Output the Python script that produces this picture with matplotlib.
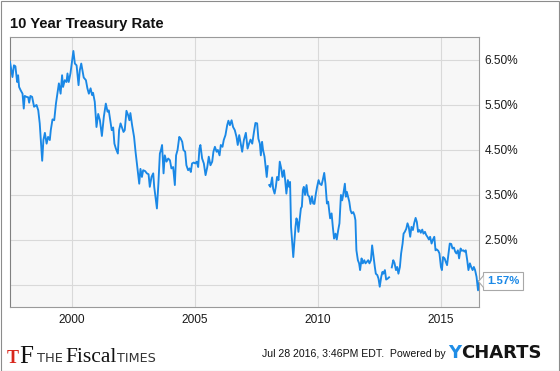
import numpy as np
import matplotlib
matplotlib.use('Agg')
import matplotlib.pyplot as plt
import matplotlib.transforms as mtransforms
from matplotlib.patches import Rectangle

plt.rcParams['font.family'] = ['Liberation Sans', 'DejaVu Sans']

# ---- data (decimal year, 10-year treasury rate in %) ----
dates = [
    1997.47, 1997.57, 1997.63, 1997.69, 1997.76, 1997.80, 1997.84, 1997.90, 1997.98,
    1998.03, 1998.07, 1998.14, 1998.21, 1998.25, 1998.30, 1998.37, 1998.45, 1998.55, 1998.62, 1998.68, 1998.75, 1998.78, 1998.83, 1998.89, 1998.96,
    1999.02, 1999.09, 1999.13, 1999.20, 1999.27, 1999.34, 1999.39, 1999.46, 1999.53, 1999.59, 1999.63, 1999.70, 1999.77, 1999.81, 1999.86, 1999.93,
    2000.00, 2000.05, 2000.11, 2000.18, 2000.26, 2000.31, 2000.37, 2000.42, 2000.47, 2000.56, 2000.62, 2000.68, 2000.75, 2000.81, 2000.85, 2000.92, 2000.99,
    2001.06, 2001.13, 2001.21, 2001.29, 2001.37, 2001.44, 2001.49, 2001.56, 2001.61, 2001.67, 2001.72, 2001.78, 2001.86, 2001.91, 2001.97,
    2002.02, 2002.09, 2002.14, 2002.21, 2002.28, 2002.33, 2002.37, 2002.44, 2002.52, 2002.58, 2002.65, 2002.73, 2002.78, 2002.84, 2002.89, 2002.97,
    2003.04, 2003.11, 2003.16, 2003.23, 2003.30, 2003.34, 2003.41, 2003.45, 2003.51, 2003.57, 2003.62, 2003.66, 2003.72, 2003.77, 2003.84, 2003.91, 2003.98,
    2004.04, 2004.11, 2004.18, 2004.23, 2004.29, 2004.36, 2004.42, 2004.48, 2004.53, 2004.60, 2004.65, 2004.72, 2004.78, 2004.83, 2004.88, 2004.95,
    2005.01, 2005.07, 2005.13, 2005.18, 2005.22, 2005.29, 2005.36, 2005.43, 2005.50, 2005.56, 2005.63, 2005.70, 2005.75, 2005.81, 2005.88, 2005.93,
    2006.00, 2006.05, 2006.12, 2006.17, 2006.24, 2006.31, 2006.36, 2006.42, 2006.49, 2006.55, 2006.62, 2006.69, 2006.74, 2006.80, 2006.85, 2006.92, 2006.99,
    2007.07, 2007.14, 2007.20, 2007.26, 2007.33, 2007.40, 2007.46, 2007.53, 2007.58, 2007.64, 2007.68, 2007.73, 2007.77, 2007.83, 2007.88, 2007.92, 2007.96, 2007.99,
    2008.02, 2008.07, 2008.14, 2008.18, 2008.24, 2008.29, 2008.34, 2008.40, 2008.45, 2008.51, 2008.56, 2008.62, 2008.67, 2008.72, 2008.78, 2008.83, 2008.87, 2008.91, 2008.96,
    2009.00, 2009.05, 2009.09, 2009.13, 2009.17, 2009.21, 2009.25, 2009.31, 2009.35, 2009.39, 2009.43, 2009.48, 2009.54, 2009.59, 2009.65, 2009.70, 2009.76, 2009.81, 2009.86, 2009.92, 2009.97,
    2010.03, 2010.08, 2010.15, 2010.20, 2010.26, 2010.31, 2010.37, 2010.42, 2010.46, 2010.50, 2010.56, 2010.61, 2010.66, 2010.72, 2010.77, 2010.83, 2010.88, 2010.94, 2010.99,
    2011.04, 2011.10, 2011.14, 2011.18, 2011.23, 2011.28, 2011.33, 2011.38, 2011.44, 2011.49, 2011.53, 2011.57, 2011.63, 2011.68, 2011.72, 2011.78, 2011.83, 2011.89, 2011.94, 2011.99,
    2012.05, 2012.10, 2012.16, 2012.21, 2012.27, 2012.32, 2012.36, 2012.42, 2012.47, 2012.52, 2012.58, 2012.63, 2012.67, 2012.73, 2012.78, 2012.84, 2012.90, 2012.95,
    2013.01, 2013.07, 2013.12, 2013.18, 2013.23, 2013.28, 2013.34, 2013.39, 2013.45, 2013.49, 2013.54, 2013.60, 2013.65, 2013.70, 2013.76, 2013.81, 2013.87, 2013.92, 2013.98,
    2014.03, 2014.08, 2014.14, 2014.19, 2014.25, 2014.30, 2014.36, 2014.41, 2014.46, 2014.52, 2014.57, 2014.63, 2014.68, 2014.74, 2014.79, 2014.84, 2014.90, 2014.95,
    2015.01, 2015.05, 2015.10, 2015.16, 2015.21, 2015.26, 2015.32, 2015.37, 2015.43, 2015.48, 2015.54, 2015.59, 2015.64, 2015.70, 2015.75, 2015.81, 2015.86, 2015.92, 2015.97,
    2016.02, 2016.08, 2016.13, 2016.19, 2016.24, 2016.30, 2016.35, 2016.40, 2016.46, 2016.52, 2016.56,
]
nan = float('nan')
rates = [
    6.45, 6.11, 6.37, 6.35, 6.00, 6.15, 5.89, 5.82, 5.74,
    5.41, 5.69, 5.67, 5.66, 5.54, 5.69, 5.67, 5.45, 5.49, 5.37, 5.08, 4.49, 4.25, 4.71, 4.87, 4.63,
    4.78, 4.71, 4.93, 5.17, 5.15, 5.52, 5.71, 5.97, 5.74, 6.15, 5.89, 6.04, 6.00, 6.19, 6.00, 6.19,
    6.49, 6.69, 6.41, 6.37, 5.93, 6.26, 6.41, 6.26, 6.10, 6.04, 5.86, 5.74, 5.86, 5.71, 5.76, 5.56, 5.00,
    5.29, 5.15, 4.80, 5.23, 5.52, 5.34, 5.37, 5.11, 4.93, 4.99, 4.63, 4.52, 4.41, 4.93, 5.08,
    5.00, 4.89, 4.93, 5.36, 5.26, 5.15, 5.31, 5.04, 4.78, 4.45, 4.11, 3.74, 4.07, 3.89, 4.04, 4.02,
    3.97, 3.95, 3.67, 3.89, 3.97, 3.67, 3.37, 3.19, 3.74, 4.41, 4.50, 4.60, 3.97, 4.37, 4.23, 4.30, 4.26,
    4.08, 4.11, 3.71, 4.37, 4.49, 4.78, 4.74, 4.67, 4.49, 4.45, 4.15, 4.04, 4.08, 4.00, 4.19, 4.21,
    4.19, 4.23, 4.11, 4.52, 4.60, 4.30, 4.19, 3.93, 4.11, 4.34, 4.15, 4.23, 4.45, 4.56, 4.45, 4.49,
    4.37, 4.60, 4.56, 4.71, 4.82, 5.04, 5.14, 5.04, 5.15, 5.00, 4.93, 4.78, 4.60, 4.82, 4.67, 4.45, 4.71,
    4.87, 4.52, 4.63, 4.72, 4.63, 4.89, 5.09, 5.08, 4.74, 4.63, 4.37, 4.67, 4.49, 4.34, 4.08, 3.89, 4.13, nan,
    3.71, 3.67, 3.88, 3.63, 3.52, 3.67, 3.89, 3.82, 4.23, 4.08, 3.89, 4.04, 3.82, 3.52, 3.82, 3.67, 3.78, 2.78, 2.41,
    2.11, 2.49, 2.78, 2.97, 2.89, 2.67, 2.89, 3.19, 3.23, 3.60, 3.67, 3.49, 3.71, 3.49, 3.45, 3.29, 3.46, 3.30, 3.29, 3.52, 3.67,
    3.82, 3.74, 3.71, 3.82, 3.98, 3.74, 3.30, 3.34, 3.15, 2.97, 3.08, 2.78, 2.52, 2.63, 2.50, 2.71, 2.86, 3.49, 3.37,
    3.52, 3.74, 3.45, 3.56, 3.45, 3.34, 3.15, 3.08, 3.11, 3.04, 2.93, 2.26, 2.04, 1.97, 1.82, 2.08, 1.97, 2.04, 1.97, 2.00,
    2.04, 1.97, 2.04, 2.37, 2.11, 1.89, 1.74, 1.71, 1.63, 1.45, 1.67, 1.78, 1.74, 1.82, 1.61, 1.63, 1.66, nan,
    1.88, 2.04, 1.98, 1.82, 1.89, 1.74, 1.89, 2.19, 2.41, 2.63, 2.67, 2.74, 2.86, 2.78, 2.56, 2.78, 2.71, 2.86, 2.98,
    2.89, 2.67, 2.71, 2.65, 2.72, 2.63, 2.67, 2.60, 2.56, 2.50, 2.56, 2.41, 2.49, 2.56, 2.26, 2.28, 2.25, 2.19,
    1.89, 1.82, 2.11, 2.08, 2.00, 1.93, 2.19, 2.41, 2.40, 2.30, 2.32, 2.23, 2.19, 2.26, 2.08, 2.30, 2.25, 2.26, 2.23,
    2.26, 2.04, 1.82, 1.97, 1.89, 1.82, 1.89, 1.82, 1.67, 1.37, 1.57,
]

x_ticks = [2000, 2005, 2010, 2015]
x_tick_labels = ['2000', '2005', '2010', '2015']
y_ticks = [1.5, 2.5, 3.5, 4.5, 5.5, 6.5]
y_tick_labels = ['', '2.50%', '3.50%', '4.50%', '5.50%', '6.50%']
last_value_label = '1.57%'
title_text = '10 Year Treasury Rate'
footer_text = 'Jul 28 2016, 3:46PM EDT.  Powered by'

BLUE = '#1a88e6'
W, H = 560, 371

fig = plt.figure(figsize=(W / 100, H / 100), dpi=100)
fig.patch.set_facecolor('white')

ax = fig.add_axes([10 / W, 64 / H, 469 / W, 270 / H])
ax.set_facecolor('#f7f7f7')
ax.plot(dates, rates, color=BLUE, lw=1.35, solid_joinstyle='round', zorder=3)
ax.set_xlim(1997.47, 2016.56)
ax.set_ylim(1.0, 7.0)
ax.set_xticks(x_ticks)
ax.set_xticklabels(x_tick_labels)
ax.set_yticks(y_ticks)
ax.set_yticklabels(y_tick_labels)
ax.yaxis.tick_right()
ax.tick_params(axis='both', length=0, labelsize=8.6, colors='#1a1a1a')
ax.tick_params(axis='y', pad=4)
ax.tick_params(axis='x', pad=5)
ax.grid(True, color='#d9d9d9', lw=0.8)
ax.set_axisbelow(True)
for s in ax.spines.values():
    s.set_color('#9a9a9a')
    s.set_linewidth(0.8)
ax.spines['left'].set_color('#808080')

# last value label with pointer
trans = mtransforms.blended_transform_factory(ax.transAxes, ax.transData)
ax.annotate(last_value_label, xy=(1, rates[-1]), xycoords=trans,
            xytext=(8, 0), textcoords='offset pixels', ha='left', va='center',
            fontsize=8.2, weight='bold', color=BLUE, annotation_clip=False, zorder=6,
            bbox=dict(boxstyle='square,pad=0.35', fc='white', ec='#a8a8a8', lw=0.8))
ptr = mtransforms.offset_copy(trans, fig=fig, x=4, y=0, units='dots')
ax.plot([1], [rates[-1]], transform=ptr, ls='none',
        marker=[(0, 6), (-5, 0), (0, -6)], ms=8.64, mfc='white', mec='#a8a8a8',
        mew=0.8, clip_on=False, zorder=7)

def fx(px):
    return px / W

def fy(py):
    return 1 - py / H

# title
fig.text(fx(10), fy(28), title_text, fontsize=10.7, weight='bold', color='#111111',
         ha='left', va='baseline')

# footer
fig.text(fx(262), fy(357), footer_text, fontsize=7.6, color='#111111', ha='left', va='baseline')
fig.text(fx(448), fy(358), 'Y', fontsize=13, weight='bold', color='#1f8de6',
         family='DejaVu Sans', ha='left', va='baseline')
fig.text(fx(461.5), fy(358), 'CHARTS', fontsize=13, weight='bold', color='#141414',
         family='DejaVu Sans', ha='left', va='baseline')

# The Fiscal Times logo
fig.text(fx(7), fy(363), 'T', fontsize=13, weight='bold', color='#d8261c',
         family='Liberation Serif', ha='left', va='baseline')
fig.text(fx(19), fy(363), 'F', fontsize=18, color='#111111',
         family='Liberation Serif', ha='left', va='baseline')
fig.text(fx(37), fy(362.5), 'THE', fontsize=9.4, color='#333333',
         family='DejaVu Sans', ha='left', va='baseline')
fig.text(fx(65), fy(362.5), 'Fiscal', fontsize=15.5, color='#111111',
         family='Liberation Serif', ha='left', va='baseline')
fig.text(fx(117), fy(362.5), 'TIMES', fontsize=9.2, color='#333333',
         family='DejaVu Sans', ha='left', va='baseline')

# outer frame
fig.patches.append(Rectangle((0.5 / W, 0.5 / H), (W - 1.5) / W, (H - 1.5) / H,
                             transform=fig.transFigure, fill=False, ec='#8c8c8c', lw=0.8))

fig.savefig('out.png', dpi=100)
